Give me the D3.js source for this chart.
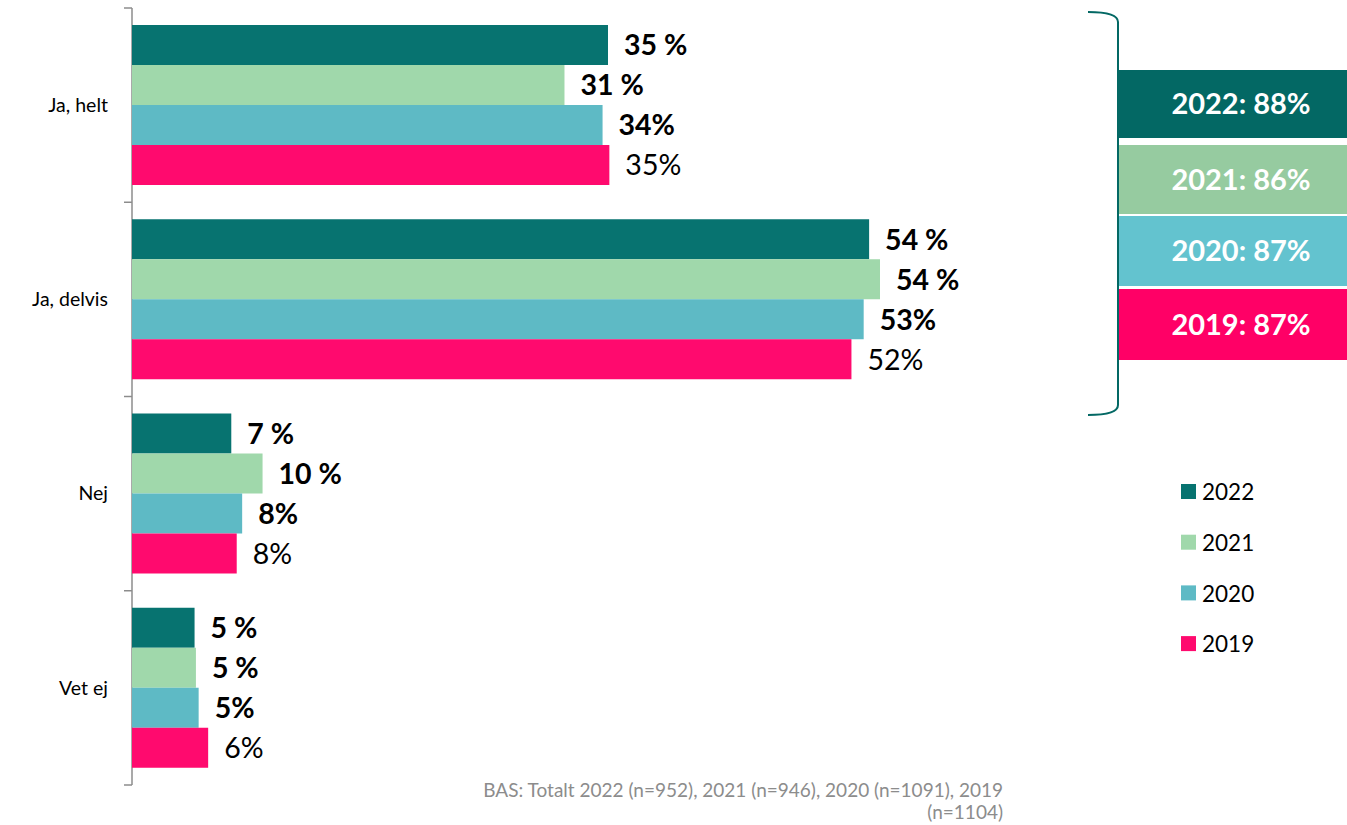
<!DOCTYPE html>
<html>
<head>
<meta charset="utf-8">
<script src="https://cdnjs.cloudflare.com/ajax/libs/d3/7.8.5/d3.min.js"></script>
<style>
  body { margin: 0; background: #fff; }
  svg { display: block; font-family: Lato, "Open Sans", sans-serif; }
</style>
</head>
<body>
<script>
// chart data
var categories = ["Ja, helt", "Ja, delvis", "Nej", "Vet ej"];
var years = ["2022", "2021", "2020", "2019"];
var values2022 = [35.0, 54.2, 7.3, 4.6];
var values2021 = [31.8, 55.0, 9.6, 4.7];
var values2020 = [34.6, 53.8, 8.1, 4.9];
var values2019 = [35.1, 52.9, 7.7, 5.6];
var labels2022 = ["35 %", "54 %", "7 %", "5 %"];
var labels2021 = ["31 %", "54 %", "10 %", "5 %"];
var labels2020 = ["34%", "53%", "8%", "5%"];
var labels2019 = ["35%", "52%", "8%", "6%"];
var totals = ["2022: 88%", "2021: 86%", "2020: 87%", "2019: 87%"];
var footnote = ["BAS: Totalt 2022 (n=952), 2021 (n=946), 2020 (n=1091), 2019", "(n=1104)"];

var barColors = ["#077370", "#A0D8AB", "#5EBAC5", "#FF0A6E"];
var boxColors = ["#036864", "#96CBA0", "#63C3CF", "#FF0066"];

var createSvg = function() {
  let width = 1347, height = 825;
  let svg = d3.select("body").append("svg")
    .attr("width", width)
    .attr("height", height);

  let series = [
    { year: years[0], values: values2022, labels: labels2022, bold: true },
    { year: years[1], values: values2021, labels: labels2021, bold: true },
    { year: years[2], values: values2020, labels: labels2020, bold: true },
    { year: years[3], values: values2019, labels: labels2019, bold: false }
  ];

  let x = d3.scaleLinear().domain([0, 60]).range([132, 132 + 816]);
  let y = d3.scaleBand().domain(categories).range([8, 785]);
  let yInner = d3.scaleBand().domain(years).range([17, 177]);

  // axis line + ticks at the band edges
  let axisColor = "#8c8c8c";
  svg.append("line")
    .attr("x1", 132).attr("x2", 132)
    .attr("y1", 8).attr("y2", 785)
    .attr("stroke", axisColor).attr("stroke-width", 1.5);
  let tickYs = categories.map(c => y(c)).concat([y.range()[1]]);
  svg.selectAll(".tick")
    .data(tickYs)
    .enter().append("line")
    .attr("x1", 124).attr("x2", 132)
    .attr("y1", d => d).attr("y2", d => d)
    .attr("stroke", axisColor).attr("stroke-width", 1.5);

  // category labels
  svg.selectAll(".cat")
    .data(categories)
    .enter().append("text")
    .attr("x", 108)
    .attr("y", d => y(d) + y.bandwidth() / 2)
    .attr("dy", "0.35em")
    .attr("text-anchor", "end")
    .attr("font-size", 19.5)
    .attr("fill", "#000")
    .text(d => d);

  // bars + labels
  series.forEach((s, si) => {
    let g = svg.append("g");
    g.selectAll("rect")
      .data(categories)
      .enter().append("rect")
      .attr("x", x(0))
      .attr("y", c => y(c) + yInner(s.year))
      .attr("width", (c, i) => x(s.values[i]) - x(0))
      .attr("height", yInner.bandwidth())
      .attr("fill", barColors[si]);
    g.selectAll("text")
      .data(categories)
      .enter().append("text")
      .attr("x", (c, i) => x(s.values[i]) + 16)
      .attr("y", c => y(c) + yInner(s.year) + yInner.bandwidth() / 2)
      .attr("dy", "0.36em")
      .attr("font-size", 28.5)
      .attr("font-weight", s.bold ? "bold" : "normal")
      .attr("fill", "#000")
      .text((c, i) => s.labels[i]);
  });

  // bracket
  svg.append("path")
    .attr("d", "M1088,12 Q1118,12 1118,22 L1118,405 Q1118,415 1088,415")
    .attr("fill", "none")
    .attr("stroke", "#036864")
    .attr("stroke-width", 2);

  // total boxes
  let boxY = [70, 145, 216, 289];
  let boxH = [68, 69, 70, 71];
  let boxes = svg.selectAll(".box")
    .data(totals)
    .enter().append("g");
  boxes.append("rect")
    .attr("x", 1119)
    .attr("y", (d, i) => boxY[i])
    .attr("width", width - 1119)
    .attr("height", (d, i) => boxH[i])
    .attr("fill", (d, i) => boxColors[i]);
  boxes.append("text")
    .attr("x", 1241)
    .attr("y", (d, i) => boxY[i] + boxH[i] / 2)
    .attr("dy", "0.36em")
    .attr("text-anchor", "middle")
    .attr("font-size", 29)
    .attr("font-weight", "bold")
    .attr("fill", "#fff")
    .text(d => d);

  // legend
  let legend = svg.selectAll(".legend")
    .data(years)
    .enter().append("g")
    .attr("transform", (d, i) => "translate(1181," + (492 + i * 50.7) + ")");
  legend.append("rect")
    .attr("x", 0).attr("y", -8)
    .attr("width", 15).attr("height", 15)
    .attr("fill", (d, i) => barColors[i]);
  legend.append("text")
    .attr("x", 21).attr("y", 0)
    .attr("dy", "0.36em")
    .attr("font-size", 22.5)
    .attr("fill", "#000")
    .text(d => d);

  // footnote
  svg.selectAll(".foot")
    .data(footnote)
    .enter().append("text")
    .attr("x", 1003)
    .attr("y", (d, i) => 797 + i * 22)
    .attr("text-anchor", "end")
    .attr("font-size", 19)
    .attr("fill", "#8c8c8c")
    .text(d => d);
}

createSvg();
</script>
</body>
</html>
